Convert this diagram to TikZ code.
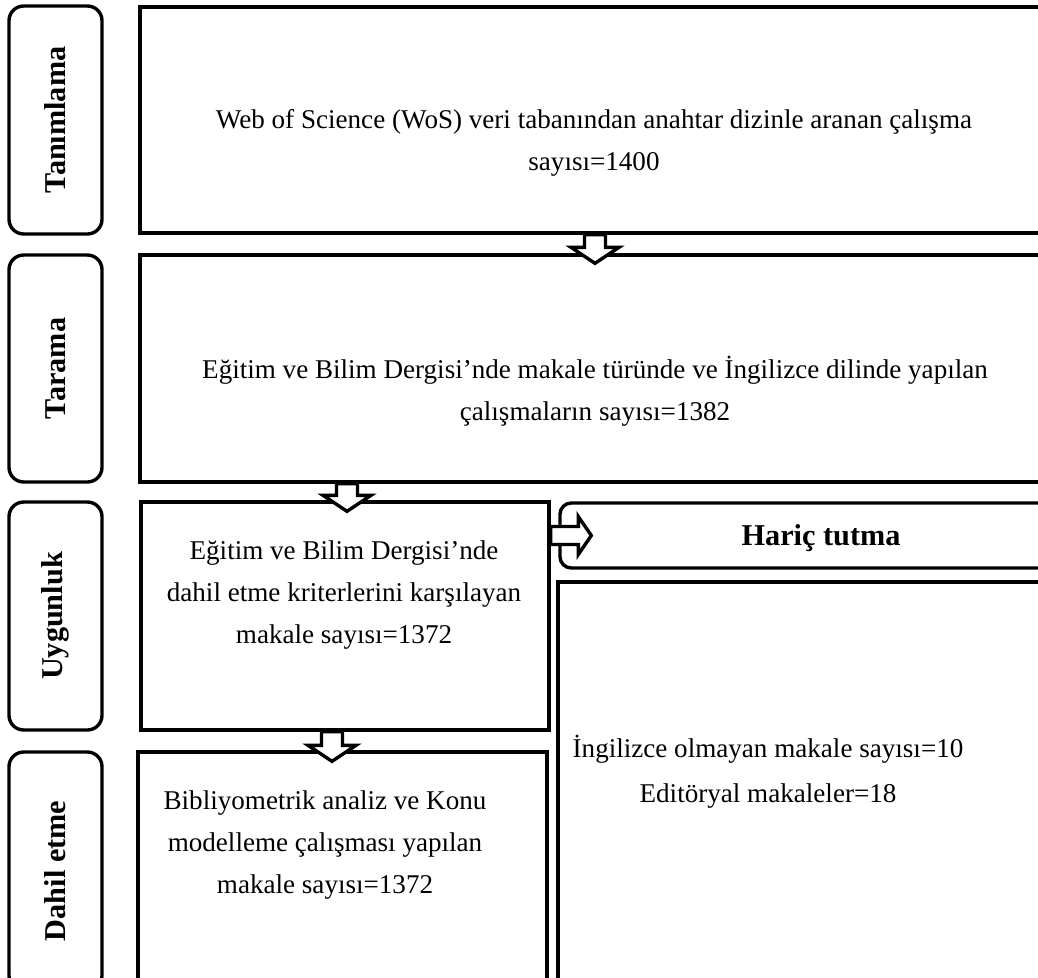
\documentclass[tikz,border=0pt]{standalone}
\usepackage{fontspec}
\setmainfont{Liberation Serif}
\usetikzlibrary{calc}

\newcommand{\pxu}{0.443pt}

\begin{document}
\begin{tikzpicture}[
    x=\pxu, y=\pxu,
    side/.style={draw, line width=1.5pt, rounded corners=6.5pt, rotate=90, inner sep=0pt, minimum height=93*\pxu, font=\fontsize{13.4}{15}\selectfont\bfseries},
    box/.style={draw, line width=1.5pt, inner sep=0pt},
    txt/.style={align=center, inner sep=0pt, font=\fontsize{12}{18.8}\selectfont},
    downblock/.style={draw, fill=white, line width=1.5pt, to path={
        ($(\tikztostart)+(-10.5,0)$) -- ($(\tikztotarget)+(-10.5,16)$) -- ($(\tikztotarget)+(-24,16)$) -- (\tikztotarget)
        -- ($(\tikztotarget)+(24,16)$) -- ($(\tikztotarget)+(10.5,16)$) -- ($(\tikztostart)+(10.5,0)$) -- cycle}},
    rightblock/.style={draw, fill=white, line width=1.5pt, to path={
        ($(\tikztostart)+(0,9)$) -- ($(\tikztotarget)+(-13,9)$) -- ($(\tikztotarget)+(-13,19)$) -- (\tikztotarget)
        -- ($(\tikztotarget)+(-13,-19)$) -- ($(\tikztotarget)+(-13,-9)$) -- ($(\tikztostart)+(0,-9)$) -- cycle}}
]
\clip (0,0) rectangle (1038,-977);

% Stage labels
\node[side, minimum width=228*\pxu] (tanim) at (55.5,-120) {Tanımlama};
\node[side, minimum width=227*\pxu] (tarama) at (55.5,-368.5) {Tarama};
\node[side, minimum width=228*\pxu] (uygun) at (55.5,-616) {Uygunluk};
\node[side, minimum width=238*\pxu] (dahil) at (55.5,-871) {Dahil etme};

% Boxes
\node[box, minimum width=910*\pxu, minimum height=226*\pxu] (b1) at (595,-120) {};
\node[box, minimum width=910*\pxu, minimum height=227*\pxu] (b2) at (595,-368.5) {};
\node[box, minimum width=408*\pxu, minimum height=228*\pxu] (b3) at (345,-616) {};
\node[box, minimum width=409*\pxu, minimum height=248*\pxu] (b4) at (342.5,-876) {};
\node[box, rounded corners=5pt, minimum width=500*\pxu, minimum height=65*\pxu] (haric) at (810,-535.5) {};
\node[box, minimum width=492*\pxu, minimum height=418*\pxu] (excl) at (804,-791) {};

% Texts
\node[txt] (b1txt) at (594,-143) {Web of Science (WoS) veri tabanından anahtar dizinle aranan çalışma\\ sayısı=1400};
\node[txt] (b2txt) at (595,-391) {Eğitim ve Bilim Dergisi’nde makale türünde ve İngilizce dilinde yapılan\\ çalışmaların sayısı=1382};
\node[txt] (b3txt) at (344,-595) {Eğitim ve Bilim Dergisi’nde\\ dahil etme kriterlerini karşılayan\\ makale sayısı=1372};
\node[txt] (b4txt) at (325,-845) {Bibliyometrik analiz ve Konu\\ modelleme çalışması yapılan\\ makale sayısı=1372};
\node[txt, font=\fontsize{13.4}{15}\selectfont\bfseries] (haricttxt) at (821,-538) {Hariç tutma};
\node[txt] (excltxt) at (768,-772) {İngilizce olmayan makale sayısı=10\\[1pt] Editöryal makaleler=18};

% Arrows
\draw[downblock] (b1.south) to ([yshift=-10*\pxu]b2.north);
\draw[downblock] ([xshift=2*\pxu]b2.south -| b3.north) to ([xshift=2*\pxu,yshift=-11*\pxu]b3.north);
\draw[downblock] ([xshift=-13*\pxu]b3.south) to ([xshift=-10.5*\pxu,yshift=-11*\pxu]b4.north);
\draw[rightblock] (b3.east |- haric.west) to ([xshift=33*\pxu]haric.west);
\end{tikzpicture}
\end{document}
